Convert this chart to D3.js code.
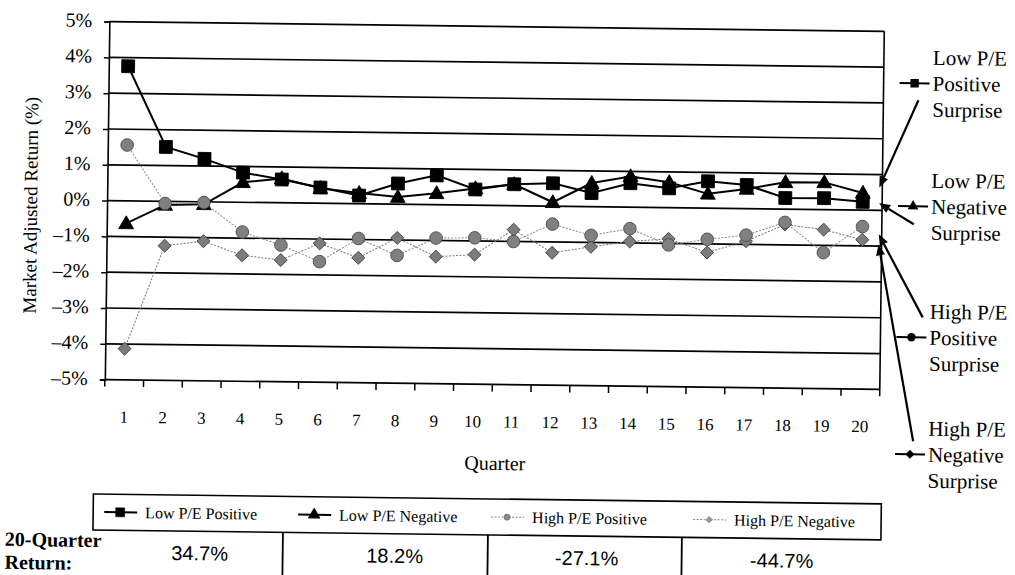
<!DOCTYPE html>
<html>
<head>
<meta charset="utf-8">
<script src="https://cdn.jsdelivr.net/npm/d3@7"></script>
<style>
  body { margin: 0; background: #fff; }
  svg { display: block; }
  text { font-family: "Liberation Serif", "Times New Roman", serif; fill: #000; }
</style>
</head>
<body>
<script>
// quarters after the announcement
const quarters = [1, 2, 3, 4, 5, 6, 7, 8, 9, 10, 11, 12, 13, 14, 15, 16, 17, 18, 19, 20];
const yTicks = [5, 4, 3, 2, 1, 0, -1, -2, -3, -4, -5];

// market adjusted return (%)
const lowPos  = [3.76, 1.52, 1.2, 0.83, 0.65, 0.44, 0.23, 0.58, 0.82, 0.44, 0.6, 0.64, 0.38, 0.67, 0.54, 0.75, 0.66, 0.31, 0.32, 0.23];
const lowNeg  = [-0.63, -0.1, -0.07, 0.56, 0.68, 0.42, 0.3, 0.2, 0.32, 0.47, 0.6, 0.11, 0.66, 0.86, 0.71, 0.4, 0.55, 0.75, 0.76, 0.48];
const highPos = [1.56, -0.06, -0.02, -0.83, -1.18, -1.63, -0.97, -1.43, -0.93, -0.91, -1.0, -0.5, -0.8, -0.6, -1.04, -0.87, -0.74, -0.37, -1.2, -0.46];
const highNeg = [-4.13, -1.24, -1.1, -1.48, -1.6, -1.12, -1.51, -0.94, -1.45, -1.38, -0.67, -1.3, -1.12, -0.96, -0.87, -1.24, -0.91, -0.43, -0.56, -0.83];

const seriesNames = ["Low P/E Positive", "Low P/E Negative", "High P/E Positive", "High P/E Negative"];
const totalReturns = ["34.7%", "18.2%", "-27.1%", "-44.7%"];
// right hand call-outs: three text lines each and where the arrow lands (value)
const calloutLines = [["Low P/E", "Positive", "Surprise"], ["Low P/E", "Negative", "Surprise"],
                      ["High P/E", "Positive", "Surprise"], ["High P/E", "Negative", "Surprise"]];
const arrowTips = [0.64, 0.2, -0.67, -0.95];

const width = 1015, height = 575;
const plotL = 106, plotR = 881, plotT = 26.5, plotB = 384.5;

const svg = d3.select("body").append("svg")
    .attr("width", width)
    .attr("height", height);

// the scan is a little crooked, so tilt the whole page
const page = svg.append("g").attr("transform", "rotate(0.72,496,290)");

const x = d3.scaleBand().domain(quarters).range([plotL, plotR]);
const y = d3.scaleLinear().domain([-5, 5]).range([plotB, plotT]);
const cx = q => x(q) + x.bandwidth() / 2;

// grid
page.append("g").selectAll("line")
    .data(yTicks)
    .join("line")
    .attr("x1", plotL).attr("x2", plotR)
    .attr("y1", d => y(d)).attr("y2", d => y(d))
    .attr("stroke", "#000").attr("stroke-width", 1.7);

page.append("line").attr("x1", plotR).attr("x2", plotR).attr("y1", plotT).attr("y2", plotB)
    .attr("stroke", "#000").attr("stroke-width", 1.6);

// y axis
const yAxis = page.append("g")
    .attr("transform", `translate(${plotL},0)`)
    .call(d3.axisLeft(y).tickValues(yTicks).tickSize(5).tickPadding(12)
        .tickFormat(d => (d < 0 ? "\u2013" + Math.abs(d) : d) + "%"));
yAxis.select(".domain").attr("stroke", "#000").attr("stroke-width", 1.6);
yAxis.selectAll(".tick line").attr("stroke", "#000").attr("stroke-width", 1.5);
yAxis.selectAll(".tick text")
    .style("font-family", "Liberation Serif, serif")
    .style("font-size", "20px").attr("dy", "0.25em");

// x axis: ticks on the category boundaries
const xAxis = page.append("g").attr("transform", `translate(0,${plotB})`);
xAxis.selectAll("line")
    .data(quarters.concat([null]))
    .join("line")
    .attr("x1", (d, i) => i < quarters.length ? x(d) : plotR)
    .attr("x2", (d, i) => i < quarters.length ? x(d) : plotR)
    .attr("y1", 0).attr("y2", 7)
    .attr("stroke", "#000").attr("stroke-width", 1.5);
xAxis.selectAll("text")
    .data(quarters)
    .join("text")
    .attr("x", d => cx(d))
    .attr("y", 43)
    .attr("text-anchor", "middle")
    .style("font-size", "17px")
    .text(d => d);

page.append("text")
    .attr("x", 497).attr("y", 470)
    .attr("text-anchor", "middle")
    .style("font-size", "20px")
    .text("Quarter");

page.append("text")
    .attr("transform", "translate(36,211) rotate(-90)")
    .attr("text-anchor", "middle")
    .style("font-size", "19px")
    .text("Market Adjusted Return (%)");

// series
const lineGen = d3.line().x((d, i) => cx(quarters[i])).y(d => y(d));
const squarePath = d3.symbol(d3.symbolSquare, 165)();
const trianglePath = d3.symbol(d3.symbolTriangle, 95)();
const diamondPath = d3.symbol(d3.symbolSquare, 85)();

function drawSeries(values, style) {
    const g = page.append("g");
    g.append("path")
        .attr("d", lineGen(values))
        .attr("fill", "none")
        .attr("stroke", style.line)
        .attr("stroke-width", style.width)
        .attr("stroke-dasharray", style.dash || null);
    g.selectAll("path.mark")
        .data(values)
        .join("path")
        .attr("class", "mark")
        .attr("d", style.shape)
        .attr("transform", (d, i) => `translate(${cx(quarters[i])},${y(d) + (style.dy || 0)})${style.rot ? " rotate(45)" : ""}`)
        .attr("fill", style.fill)
        .attr("stroke", style.stroke)
        .attr("stroke-width", 0.9);
}

drawSeries(lowPos, { line: "#000", width: 2, shape: squarePath, fill: "#000", stroke: "#000" });
drawSeries(lowNeg, { line: "#000", width: 2, shape: trianglePath, fill: "#000", stroke: "#000", dy: 1 });
drawSeries(highNeg, { line: "#777", width: 1, dash: "2,1.5", shape: diamondPath, fill: "#7c7c7c", stroke: "#444", rot: true });
drawSeries(highPos, { line: "#888", width: 1, dash: "2,1.5", shape: d3.symbol(d3.symbolCircle, 125)(), fill: "#808080", stroke: "#4a4a4a" });

// right hand call-outs
const calloutTop = [52, 175, 306, 423];
const calloutShapes = [
    { shape: d3.symbol(d3.symbolSquare, 70)(), rot: false },
    { shape: d3.symbol(d3.symbolTriangle, 50)(), rot: false },
    { shape: d3.symbol(d3.symbolCircle, 55)(), rot: false },
    { shape: d3.symbol(d3.symbolSquare, 40)(), rot: true }
];
const arrowStart = [[916, 95], [913, 219], [923, 312], [915, 436]];

const call = page.append("g");
calloutLines.forEach((lines, k) => {
    lines.forEach((t, j) => {
        call.append("text")
            .attr("x", 930)
            .attr("y", calloutTop[k] + j * 26)
            .attr("dy", "0.35em")
            .style("font-size", "21px")
            .text(t);
    });
    const my = calloutTop[k] + 26;
    call.append("line")
        .attr("x1", 897).attr("x2", 927).attr("y1", my).attr("y2", my)
        .attr("stroke", "#000").attr("stroke-width", 2);
    call.append("path")
        .attr("d", calloutShapes[k].shape)
        .attr("transform", `translate(912,${my})${calloutShapes[k].rot ? " rotate(45)" : ""}`)
        .attr("fill", "#000");

    // arrow
    const [sx, sy] = arrowStart[k];
    const tx = plotR - 3, ty = y(arrowTips[k]);
    const ang = Math.atan2(ty - sy, tx - sx);
    const hl = 11, hw = 4.5;
    const bx = tx - hl * Math.cos(ang), by = ty - hl * Math.sin(ang);
    call.append("line")
        .attr("x1", sx).attr("y1", sy).attr("x2", bx).attr("y2", by)
        .attr("stroke", "#000").attr("stroke-width", 2.2);
    call.append("path")
        .attr("d", `M${tx},${ty}L${bx + hw * Math.sin(ang)},${by - hw * Math.cos(ang)}L${bx - hw * Math.sin(ang)},${by + hw * Math.cos(ang)}Z`)
        .attr("fill", "#000");
});

// legend box
const legend = page.append("g");
legend.append("rect")
    .attr("x", 96).attr("y", 499).attr("width", 788).attr("height", 36)
    .attr("fill", "none").attr("stroke", "#000").attr("stroke-width", 1.6);

const legendMarkX = [123, 317, 510, 712];
const legendStyles = [
    { line: "#000", w: 2, dash: null, shape: d3.symbol(d3.symbolSquare, 80)(), fill: "#000", rot: false },
    { line: "#000", w: 2, dash: null, shape: d3.symbol(d3.symbolTriangle, 60)(), fill: "#000", rot: false },
    { line: "#888", w: 1, dash: "2,1.5", shape: d3.symbol(d3.symbolCircle, 30)(), fill: "#888", rot: false },
    { line: "#888", w: 1, dash: "2,1.5", shape: d3.symbol(d3.symbolSquare, 20)(), fill: "#999", rot: true }
];
seriesNames.forEach((name, i) => {
    const s = legendStyles[i], mx = legendMarkX[i], my = 517;
    legend.append("line")
        .attr("x1", mx - 16).attr("x2", mx + 17).attr("y1", my).attr("y2", my)
        .attr("stroke", s.line).attr("stroke-width", s.w).attr("stroke-dasharray", s.dash);
    legend.append("path")
        .attr("d", s.shape)
        .attr("transform", `translate(${mx},${my})${s.rot ? " rotate(45)" : ""}`)
        .attr("fill", s.fill).attr("stroke", i > 1 ? "#666" : "#000").attr("stroke-width", 0.6);
    legend.append("text")
        .attr("x", mx + 25).attr("y", my).attr("dy", "0.35em")
        .style("font-size", "16px")
        .text(name);
});

// 20-quarter returns row
const dividerX = [286, 491, 685];
const valueX = [203, 398, 590, 785];
legend.selectAll("line.div")
    .data(dividerX)
    .join("line")
    .attr("class", "div")
    .attr("x1", d => d).attr("x2", d => d)
    .attr("y1", 535).attr("y2", 585)
    .attr("stroke", "#000").attr("stroke-width", 1.8);

legend.selectAll("text.val")
    .data(totalReturns)
    .join("text")
    .attr("class", "val")
    .attr("x", (d, i) => valueX[i])
    .attr("y", 557)
    .attr("dy", "0.35em")
    .attr("text-anchor", "middle")
    .style("font-family", "Liberation Sans, Arial, sans-serif")
    .style("font-size", "20px")
    .text(d => d);

legend.append("text")
    .attr("x", 8).attr("y", 545).attr("dy", "0.35em")
    .style("font-size", "20px").style("font-weight", "bold")
    .text("20-Quarter");
legend.append("text")
    .attr("x", 8).attr("y", 568).attr("dy", "0.35em")
    .style("font-size", "20px").style("font-weight", "bold")
    .text("Return:");
</script>
</body>
</html>
